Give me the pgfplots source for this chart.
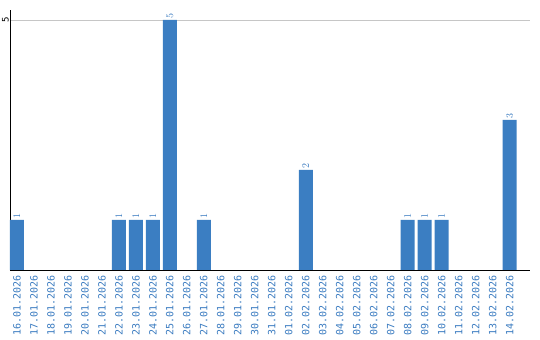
\documentclass[border=0pt]{standalone}
\usepackage{pgfplots}
\pgfplotsset{compat=1.18}
\usepackage{fontspec}
\setmainfont{DejaVu Sans}
\newfontfamily\labfont{DejaVu Sans Mono}
\definecolor{barblue}{HTML}{3B7EC2}
\definecolor{labblue}{HTML}{3A7BC0}
\begin{document}
\begin{tikzpicture}
\begin{axis}[
  scale only axis, width=520bp, height=260bp,
  xmin=-0.41, xmax=30.2, ymin=0, ymax=5.2,
  axis x line*=bottom, axis y line*=left,
  axis line style={-, black, line width=0.8pt},
  xtick={0,...,29},
  xticklabels={16.01.2026,17.01.2026,18.01.2026,19.01.2026,20.01.2026,21.01.2026,22.01.2026,23.01.2026,24.01.2026,25.01.2026,26.01.2026,27.01.2026,28.01.2026,29.01.2026,30.01.2026,31.01.2026,01.02.2026,02.02.2026,03.02.2026,04.02.2026,05.02.2026,06.02.2026,07.02.2026,08.02.2026,09.02.2026,10.02.2026,11.02.2026,12.02.2026,13.02.2026,14.02.2026},
  xticklabel style={rotate=90, anchor=east, font=\labfont\fontsize{10bp}{11bp}\selectfont, text=labblue, inner sep=1pt},
  xticklabel shift=4bp,
  ytick={5}, yticklabels={5},
  yticklabel style={rotate=90, anchor=south, font=\labfont\fontsize{9bp}{10bp}\selectfont, inner sep=1pt},
  major tick length=0pt,
  ymajorgrids, grid style={gray!45, line width=0.8pt},
  ybar, bar width=14bp, bar shift=0pt,
  nodes near coords,
  every node near coord/.append style={rotate=90, anchor=west, font=\labfont\fontsize{10bp}{11bp}\selectfont, text=labblue, inner sep=1.5pt},
]
\addplot[fill=barblue, draw=none] coordinates {
(0,1) (6,1) (7,1) (8,1) (9,5) (11,1) (17,2) (23,1) (24,1) (25,1) (29,3)
};
\end{axis}
\pgfresetboundingbox
\path (current axis.south west) ++(-10bp,-70bp) coordinate (bl);
\path (current axis.north east) ++(10bp,10bp) coordinate (tr);
\path (bl) rectangle (tr);
\end{tikzpicture}
\end{document}
